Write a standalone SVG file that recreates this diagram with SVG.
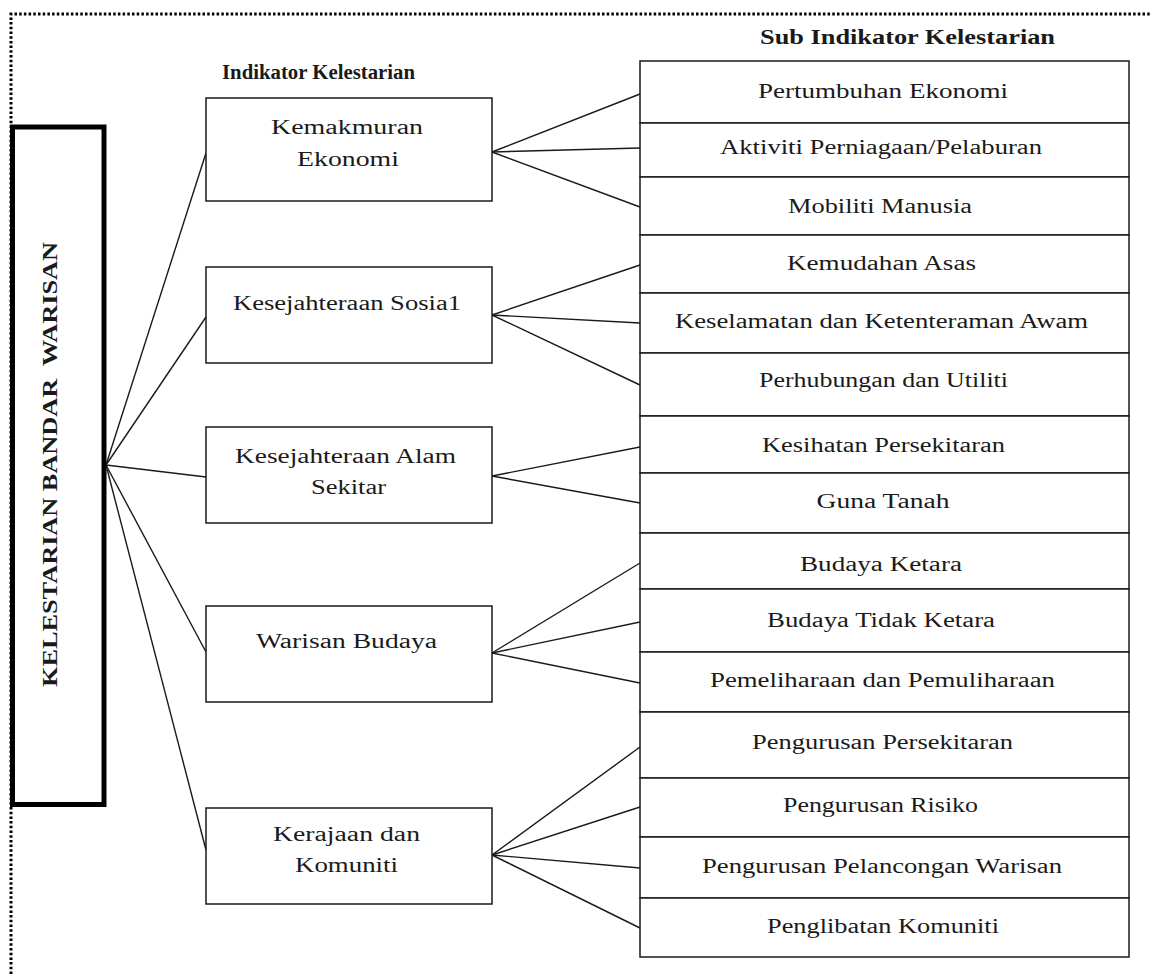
<svg xmlns="http://www.w3.org/2000/svg" width="1151" height="974" viewBox="0 0 1151 974">
<style>
.bg{fill:#fff}
.frame{fill:none;stroke:#000;stroke-width:3;stroke-dasharray:2.5 2.2}
.main{fill:#fff;stroke:#000;stroke-width:5}
.box{fill:#fff;stroke:#1a1a1a;stroke-width:1.5}
.con line{stroke:#1a1a1a;stroke-width:1.4}
text{font-family:"Liberation Serif","Times New Roman",serif;fill:#1a1a1a}
.t{font-size:20px;text-anchor:middle}
.h{font-size:20px;font-weight:bold}
.m{font-size:22px;font-weight:bold;text-anchor:middle}
</style>
<rect class="bg" x="0" y="0" width="1151" height="974"/>
<g id="frame">
<path class="frame" d="M11,974 V14 H1151"/>
</g>
<g class="con" id="connectors">
<line x1="106" y1="465" x2="206" y2="153"/>
<line x1="106" y1="465" x2="206" y2="317"/>
<line x1="106" y1="465" x2="206" y2="477"/>
<line x1="106" y1="465" x2="206" y2="652"/>
<line x1="106" y1="465" x2="206" y2="850"/>
<line x1="492" y1="152" x2="640" y2="94"/>
<line x1="492" y1="152" x2="640" y2="148"/>
<line x1="492" y1="152" x2="640" y2="207"/>
<line x1="492" y1="315" x2="640" y2="265"/>
<line x1="492" y1="315" x2="640" y2="323"/>
<line x1="492" y1="315" x2="640" y2="385"/>
<line x1="492" y1="476" x2="640" y2="447"/>
<line x1="492" y1="476" x2="640" y2="503"/>
<line x1="492" y1="653" x2="640" y2="563"/>
<line x1="492" y1="653" x2="640" y2="622"/>
<line x1="492" y1="653" x2="640" y2="683"/>
<line x1="492" y1="855" x2="640" y2="747"/>
<line x1="492" y1="855" x2="640" y2="807"/>
<line x1="492" y1="855" x2="640" y2="868"/>
<line x1="492" y1="855" x2="640" y2="928"/>
</g>
<g id="root">
<rect class="main" x="12.5" y="127" width="91.5" height="677.5"/>
<text class="m" transform="translate(57,464.5) rotate(-90)" textLength="445" lengthAdjust="spacingAndGlyphs">KELESTARIAN BANDAR&#160; WARISAN</text>
</g>
<g id="heading-indikator">
<text class="h" x="222" y="79" textLength="193" lengthAdjust="spacingAndGlyphs">Indikator Kelestarian</text>
</g>
<g id="heading-sub">
<text class="h" x="760" y="44" textLength="295" lengthAdjust="spacingAndGlyphs">Sub Indikator Kelestarian</text>
</g>
<g id="ind-ekonomi">
<rect class="box" x="206" y="98" width="286" height="103"/>
<text class="t" x="347" y="134" textLength="152" lengthAdjust="spacingAndGlyphs">Kemakmuran</text>
<text class="t" x="348" y="166" textLength="102" lengthAdjust="spacingAndGlyphs">Ekonomi</text>
</g>
<g id="ind-sosial">
<rect class="box" x="206" y="267" width="286" height="96"/>
<text class="t" x="347" y="310" textLength="228" lengthAdjust="spacingAndGlyphs">Kesejahteraan Sosia1</text>
</g>
<g id="ind-alam">
<rect class="box" x="206" y="427" width="286" height="96"/>
<text class="t" x="345.5" y="463" textLength="221" lengthAdjust="spacingAndGlyphs">Kesejahteraan Alam</text>
<text class="t" x="348.5" y="494" textLength="75" lengthAdjust="spacingAndGlyphs">Sekitar</text>
</g>
<g id="ind-budaya">
<rect class="box" x="206" y="606" width="286" height="96"/>
<text class="t" x="346.5" y="648" textLength="181" lengthAdjust="spacingAndGlyphs">Warisan Budaya</text>
</g>
<g id="ind-kerajaan">
<rect class="box" x="206" y="808" width="286" height="96"/>
<text class="t" x="346.5" y="841" textLength="147" lengthAdjust="spacingAndGlyphs">Kerajaan dan</text>
<text class="t" x="346.5" y="872" textLength="103" lengthAdjust="spacingAndGlyphs">Komuniti</text>
</g>
<g id="sub-1"><rect class="box" x="640" y="61" width="489" height="62"/><text class="t" x="883" y="98" textLength="250" lengthAdjust="spacingAndGlyphs">Pertumbuhan Ekonomi</text></g>
<g id="sub-2"><rect class="box" x="640" y="123" width="489" height="54"/><text class="t" x="881" y="154" textLength="322" lengthAdjust="spacingAndGlyphs">Aktiviti Perniagaan/Pelaburan</text></g>
<g id="sub-3"><rect class="box" x="640" y="177" width="489" height="58"/><text class="t" x="880" y="213" textLength="184" lengthAdjust="spacingAndGlyphs">Mobiliti Manusia</text></g>
<g id="sub-4"><rect class="box" x="640" y="235" width="489" height="58"/><text class="t" x="881.5" y="270" textLength="189" lengthAdjust="spacingAndGlyphs">Kemudahan Asas</text></g>
<g id="sub-5"><rect class="box" x="640" y="293" width="489" height="60"/><text class="t" x="881.5" y="328" textLength="413" lengthAdjust="spacingAndGlyphs">Keselamatan dan Ketenteraman Awam</text></g>
<g id="sub-6"><rect class="box" x="640" y="353" width="489" height="63"/><text class="t" x="883.5" y="387" textLength="249" lengthAdjust="spacingAndGlyphs">Perhubungan dan Utiliti</text></g>
<g id="sub-7"><rect class="box" x="640" y="416" width="489" height="57"/><text class="t" x="883.5" y="452" textLength="243" lengthAdjust="spacingAndGlyphs">Kesihatan Persekitaran</text></g>
<g id="sub-8"><rect class="box" x="640" y="473" width="489" height="60"/><text class="t" x="883" y="508" textLength="133" lengthAdjust="spacingAndGlyphs">Guna Tanah</text></g>
<g id="sub-9"><rect class="box" x="640" y="533" width="489" height="56"/><text class="t" x="881" y="571" textLength="162" lengthAdjust="spacingAndGlyphs">Budaya Ketara</text></g>
<g id="sub-10"><rect class="box" x="640" y="589" width="489" height="63"/><text class="t" x="881" y="627" textLength="228" lengthAdjust="spacingAndGlyphs">Budaya Tidak Ketara</text></g>
<g id="sub-11"><rect class="box" x="640" y="652" width="489" height="60"/><text class="t" x="882.5" y="687" textLength="345" lengthAdjust="spacingAndGlyphs">Pemeliharaan dan Pemuliharaan</text></g>
<g id="sub-12"><rect class="box" x="640" y="712" width="489" height="66"/><text class="t" x="882.5" y="749" textLength="261" lengthAdjust="spacingAndGlyphs">Pengurusan Persekitaran</text></g>
<g id="sub-13"><rect class="box" x="640" y="778" width="489" height="59"/><text class="t" x="880.5" y="812" textLength="195" lengthAdjust="spacingAndGlyphs">Pengurusan Risiko</text></g>
<g id="sub-14"><rect class="box" x="640" y="837" width="489" height="61"/><text class="t" x="882" y="873" textLength="360" lengthAdjust="spacingAndGlyphs">Pengurusan Pelancongan Warisan</text></g>
<g id="sub-15"><rect class="box" x="640" y="898" width="489" height="59"/><text class="t" x="883" y="933" textLength="232" lengthAdjust="spacingAndGlyphs">Penglibatan Komuniti</text></g>
</svg>
